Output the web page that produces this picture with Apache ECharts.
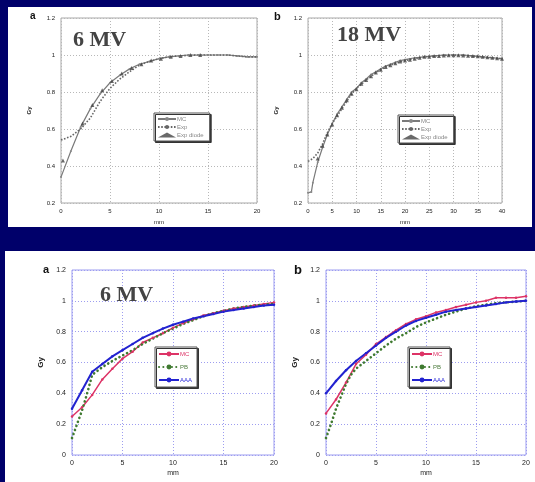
<!DOCTYPE html>
<html>
<head>
<meta charset="utf-8">
<script src="https://cdn.jsdelivr.net/npm/echarts@6/dist/echarts.min.js"></script>
<style>
  html, body { margin: 0; padding: 0; background: #00006a; }
  #chart { width: 535px; height: 482px; }
</style>
</head>
<body>
<div id="chart"></div>
<script>
// top row: 6 MV / 18 MV, MC vs Exp vs Exp diode
const A_MC_X = [0,1,2,3,4,5,6,7,8,9,10,11,12,13,14,15,16,17,18,19,20];
const A_MC_Y = [0.34,0.48,0.61,0.71,0.79,0.85,0.89,0.925,0.95,0.965,0.98,0.99,0.995,1.0,1.0,1.0,1.0,1.0,0.995,0.99,0.99];
const A_EXP_X = [0,1,2,3,4,5,6,7,8,9,10,11,12,13,14,15,16,17,18,19,20];
const A_EXP_Y = [0.54,0.56,0.60,0.66,0.75,0.82,0.87,0.91,0.945,0.965,0.98,0.99,0.995,0.998,1.0,1.0,1.0,1.0,0.995,0.99,0.99];
const A_DIODE_X = [0.2,2.2,3.2,4.2,5.2,6.2,7.2,8.2,9.2,10.2,11.2,12.2,13.2,14.2];
const A_DIODE_Y = [0.43,0.63,0.73,0.81,0.86,0.90,0.93,0.95,0.97,0.98,0.99,0.995,1.0,1.0];

const B_MC_X = [0,0.7,1,2,3,4,5,6,7,8,9,10,11,12,13,14,15,16,17,18,19,20,22,24,26,28,30,32,34,36,38,40];
const B_MC_Y = [0.255,0.26,0.31,0.42,0.50,0.57,0.63,0.68,0.72,0.76,0.80,0.82,0.85,0.87,0.895,0.91,0.925,0.94,0.95,0.96,0.97,0.975,0.985,0.99,0.995,1.0,1.0,1.0,0.995,0.99,0.985,0.98];
const B_EXP_X = [0,1,2,3,4,5,6,7,8,9,10,12,14,16,18,20,22,24,26,28,30,32,34,36,38,40];
const B_EXP_Y = [0.425,0.44,0.47,0.52,0.58,0.63,0.67,0.71,0.75,0.79,0.82,0.865,0.905,0.935,0.955,0.97,0.98,0.99,0.995,0.998,1.0,0.998,0.995,0.99,0.985,0.98];
const B_DIODE_X = [2,3,4,5,6,7,8,9,10,11,12,13,14,15,16,17,18,19,20,21,22,23,24,25,26,27,28,29,30,31,32,33,34,35,36,37,38,39,40];
const B_DIODE_Y = [0.44,0.51,0.57,0.625,0.675,0.715,0.755,0.79,0.815,0.845,0.865,0.885,0.905,0.92,0.935,0.945,0.955,0.965,0.97,0.975,0.98,0.985,0.99,0.99,0.995,0.995,0.997,0.998,0.998,0.998,0.997,0.996,0.995,0.993,0.99,0.988,0.985,0.982,0.98];

// bottom row: MC vs PB vs AAA
const C_X = [0,1,2,3,4,5,6,7,8,9,10,11,12,13,14,15,16,17,18,19,20];
const C_MC_Y = [0.25,0.31,0.39,0.49,0.56,0.625,0.67,0.73,0.76,0.79,0.825,0.855,0.88,0.905,0.92,0.935,0.95,0.96,0.97,0.98,0.99];
const C_AAA_Y = [0.30,0.42,0.54,0.59,0.64,0.68,0.72,0.76,0.79,0.82,0.845,0.865,0.885,0.90,0.915,0.93,0.94,0.95,0.96,0.97,0.975];
const C_PB_X = [0,0.5,1,1.5,2,3,4,5,6,7,8,9,10,11,12,13,14,15,16,17,18,19,20];
const C_PB_Y = [0.11,0.20,0.29,0.40,0.52,0.57,0.61,0.645,0.68,0.72,0.755,0.79,0.82,0.85,0.875,0.90,0.92,0.935,0.95,0.96,0.97,0.975,0.98];

const D_X = [0,1,2,3,4,5,6,7,8,9,10,11,12,13,14,15,16,17,18,19,20];
const D_MC_Y = [0.27,0.36,0.47,0.59,0.65,0.72,0.765,0.81,0.85,0.88,0.90,0.925,0.94,0.96,0.975,0.99,1.0,1.02,1.02,1.02,1.03];
const D_AAA_Y = [0.40,0.48,0.55,0.61,0.66,0.71,0.76,0.80,0.84,0.87,0.89,0.91,0.93,0.94,0.95,0.96,0.97,0.98,0.99,0.995,1.0];
const D_PB_X = [0,0.5,1,1.5,2,2.5,3,4,5,6,7,8,9,10,11,12,13,14,15,16,17,18,19,20];
const D_PB_Y = [0.11,0.20,0.30,0.38,0.46,0.52,0.56,0.61,0.66,0.71,0.755,0.79,0.83,0.86,0.885,0.91,0.93,0.95,0.965,0.975,0.985,0.99,0.995,1.0];

const zip = (xs, ys) => xs.map((x, i) => [x, ys[i]]);

const FONT = 'Liberation Sans, Arial, sans-serif';
const SERIF = 'Liberation Serif, Times New Roman, serif';

function xAx(idx, max, interval, grid, top) {
  return {
    gridIndex: idx, type: 'value', min: 0, max, interval,
    name: 'mm', nameLocation: 'middle', nameGap: top ? 16 : 15,
    nameTextStyle: { fontSize: top ? 6 : 7, fontFamily: FONT, color: '#222' },
    axisLine: { show: false },
    axisTick: { show: false },
    axisLabel: { fontSize: top ? 6 : 7, color: '#222', fontFamily: FONT, margin: 5 },
    splitLine: { show: true, lineStyle: { type: [1, 2], color: grid, width: 1 } },
  };
}
function yAx(idx, min, grid, top) {
  return {
    gridIndex: idx, type: 'value', min, max: 1.2, interval: 0.2,
    name: 'Gy', nameLocation: 'middle', nameGap: top ? 29 : 27, nameRotate: 90,
    nameTextStyle: { fontSize: top ? 6 : 8, fontFamily: FONT, color: '#222', fontWeight: 'bold' },
    axisLine: { show: false },
    axisTick: { show: false },
    axisLabel: { fontSize: top ? 6 : 7, color: '#222', fontFamily: FONT, margin: 6,
      formatter: (v) => String(Math.round(v * 10) / 10) },
    splitLine: { show: true, lineStyle: { type: [1, 2], color: grid, width: 1 } },
  };
}

function legendBox(left, top, names, colors, top3) {
  return {
    orient: 'vertical', left, top,
    data: names.map((n, i) => ({ name: n, textStyle: { color: colors[i] } })),
    formatter: (n) => n.trim(),
    itemWidth: top3 ? 18 : 20, itemHeight: top3 ? 5 : 6,
    itemGap: top3 ? 2 : 7,
    padding: top3 ? [3, 6, 3, 3] : [4, 5, 4, 3],
    textStyle: { fontSize: 6, fontFamily: FONT, padding: [0, 0, 0, -4] },
    backgroundColor: '#fff', borderColor: '#555', borderWidth: 1,
    shadowColor: '#333', shadowOffsetX: 1.5, shadowOffsetY: 1.5, shadowBlur: 0,
    selectedMode: false,
  };
}

const GRAY_GRID = '#b8b8b8';
const BLUE_GRID = '#9d9df0';

const option = {
  backgroundColor: '#00006a',
  animation: false,
  graphic: [
    { type: 'rect', shape: { x: 8, y: 7, width: 524, height: 220 }, style: { fill: '#fff' }, z: -10 },
    { type: 'rect', shape: { x: 5, y: 251, width: 530, height: 231 }, style: { fill: '#fff' }, z: -10 },
    { type: 'text', left: 73, top: 29, style: { text: '6 MV', font: 'bold 22px ' + SERIF, fill: '#444' }, z: 10 },
    { type: 'text', left: 337, top: 24, style: { text: '18 MV', font: 'bold 22px ' + SERIF, fill: '#444' }, z: 10 },
    { type: 'text', left: 100, top: 284, style: { text: '6 MV', font: 'bold 22px ' + SERIF, fill: '#444' }, z: 10 },
    { type: 'text', left: 30, top: 11, style: { text: 'a', font: 'bold 10px ' + FONT, fill: '#111' } },
    { type: 'text', left: 274, top: 11, style: { text: 'b', font: 'bold 11px ' + FONT, fill: '#111' } },
    { type: 'text', left: 43, top: 264, style: { text: 'a', font: 'bold 11px ' + FONT, fill: '#111' } },
    { type: 'text', left: 294, top: 264, style: { text: 'b', font: 'bold 13px ' + FONT, fill: '#111' } },
  ],
  grid: [
    { left: 61, top: 18, width: 196, height: 185, show: true, borderColor: '#a8a8a8', borderWidth: 1 },
    { left: 308, top: 18, width: 194, height: 185, show: true, borderColor: '#a8a8a8', borderWidth: 1 },
    { left: 72, top: 270, width: 202, height: 185, show: true, borderColor: '#9d9df0', borderWidth: 1 },
    { left: 326, top: 270, width: 200, height: 185, show: true, borderColor: '#9d9df0', borderWidth: 1 },
  ],
  xAxis: [
    xAx(0, 20, 5, GRAY_GRID, true),
    xAx(1, 40, 5, GRAY_GRID, true),
    xAx(2, 20, 5, BLUE_GRID, false),
    xAx(3, 20, 5, BLUE_GRID, false),
  ],
  yAxis: [
    yAx(0, 0.2, GRAY_GRID, true),
    yAx(1, 0.2, GRAY_GRID, true),
    yAx(2, 0, BLUE_GRID, false),
    yAx(3, 0, BLUE_GRID, false),
  ],
  legend: [
    legendBox(154, 113, ['MC', 'Exp', 'Exp diode'], ['#888', '#888', '#888'], true),
    legendBox(398, 115, ['MC', 'Exp', 'Exp diode'], ['#888', '#888', '#888'], true),
    legendBox(155, 347, ['MC ', 'PB', 'AAA'], ['#dd3366', '#4a7a3a', '#2a2ad8'], false),
    legendBox(408, 347, ['MC ', 'PB', 'AAA'], ['#dd3366', '#4a7a3a', '#2a2ad8'], false),
  ],
  series: [],
};

// top plots
[[0, A_MC_X, A_MC_Y, A_EXP_X, A_EXP_Y, A_DIODE_X, A_DIODE_Y],
 [1, B_MC_X, B_MC_Y, B_EXP_X, B_EXP_Y, B_DIODE_X, B_DIODE_Y]].forEach(([g, mx, my, ex, ey, dx, dy]) => {
  option.series.push(
    { name: 'MC', type: 'line', xAxisIndex: g, yAxisIndex: g, data: zip(mx, my),
      symbol: 'circle', symbolSize: 2, showSymbol: true,
      lineStyle: { color: '#7a7a7a', width: 1.2 }, itemStyle: { color: '#888' } },
    { name: 'Exp', type: 'line', xAxisIndex: g, yAxisIndex: g, data: zip(ex, ey),
      symbol: 'none', smooth: false,
      lineStyle: { color: '#666', width: 1.6, type: [1.6, 1.6] }, itemStyle: { color: '#666' } },
    { name: 'Exp diode', type: 'scatter', xAxisIndex: g, yAxisIndex: g, data: zip(dx, dy),
      symbol: 'triangle', symbolSize: 4, itemStyle: { color: '#444' }, z: 5 }
  );
});

// bottom plots
[[2, C_X, C_MC_Y, C_AAA_Y, C_PB_X, C_PB_Y],
 [3, D_X, D_MC_Y, D_AAA_Y, D_PB_X, D_PB_Y]].forEach(([g, x, mcy, aaay, pbx, pby]) => {
  option.series.push(
    { name: 'MC ', type: 'line', xAxisIndex: g, yAxisIndex: g, data: zip(x, mcy),
      symbol: 'circle', symbolSize: 2.5,
      lineStyle: { color: '#dd3366', width: 1.5 }, itemStyle: { color: '#dd3366' } },
    { name: 'PB', type: 'line', xAxisIndex: g, yAxisIndex: g, data: zip(pbx, pby),
      symbol: 'none',
      lineStyle: { color: '#3f7a30', width: 2.6, type: [0.1, 4.2], cap: 'round' }, itemStyle: { color: '#3f7a30' } },
    { name: 'AAA', type: 'line', xAxisIndex: g, yAxisIndex: g, data: zip(x, aaay),
      symbol: 'circle', symbolSize: 2.5,
      lineStyle: { color: '#2222d0', width: 2 }, itemStyle: { color: '#2222d0' } }
  );
});

const chart = echarts.init(document.getElementById('chart'));
chart.setOption(option);
</script>
</body>
</html>
